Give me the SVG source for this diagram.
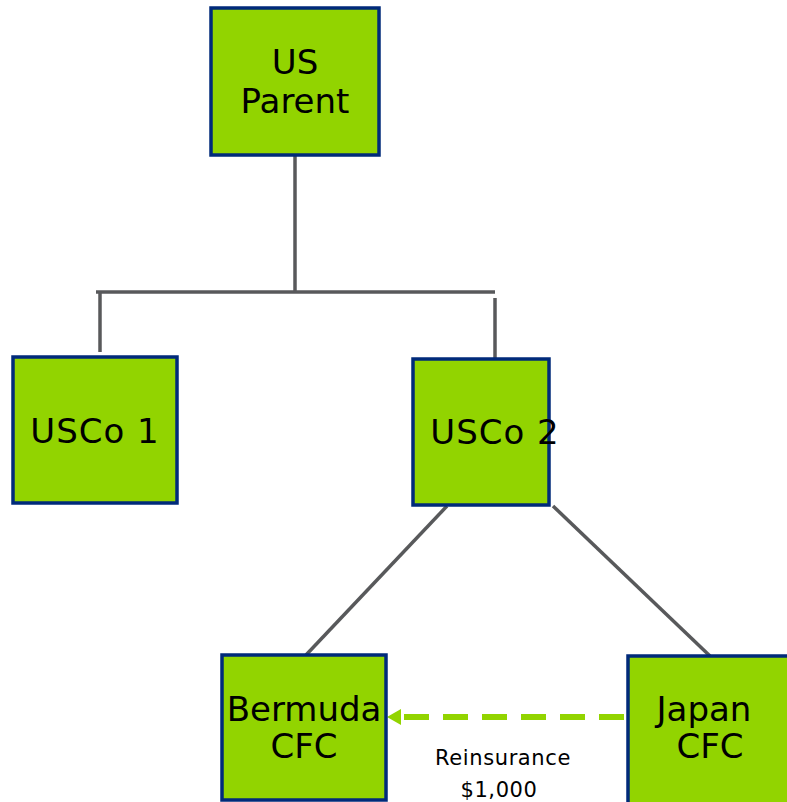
<svg xmlns="http://www.w3.org/2000/svg" width="787" height="802" viewBox="0 0 787 802">
<style>
.box{fill:#92D400;stroke:#002A7A;stroke-width:3.5}
.t{font-family:"DejaVu Sans",Verdana,sans-serif;font-size:34px;fill:#000;text-anchor:middle}
.s{font-family:"DejaVu Sans",Verdana,sans-serif;font-size:21px;letter-spacing:0.6px;fill:#000;text-anchor:middle}
.c{stroke:#58595B;stroke-width:3.5;fill:none}
</style>
<g id="connectors">
<line class="c" x1="295" y1="155" x2="295" y2="292"/>
<line class="c" x1="96" y1="292" x2="495" y2="292"/>
<line class="c" x1="100" y1="292" x2="100" y2="352"/>
<line class="c" x1="495" y1="298" x2="495" y2="358"/>
<line class="c" x1="447" y1="506" x2="306" y2="655"/>
<line class="c" x1="553" y1="506" x2="710" y2="656"/>
<line x1="624" y1="717" x2="402" y2="717" stroke="#92D400" stroke-width="6" stroke-dasharray="25,14"/>
<path d="M387,717 L401,709 L401,725 Z" fill="#92D400"/>
</g>
<g id="us-parent">
<rect class="box" x="211" y="8" width="168" height="147"/>
<text class="t" x="295" y="74">US</text>
<text class="t" x="295" y="113">Parent</text>
</g>
<g id="usco1">
<rect class="box" x="13" y="357" width="164" height="146"/>
<text class="t" x="95" y="443" letter-spacing="1">USCo 1</text>
</g>
<g id="usco2">
<rect class="box" x="413" y="359" width="136" height="146"/>
<text class="t" x="495" y="444" letter-spacing="1">USCo 2</text>
</g>
<g id="bermuda">
<rect class="box" x="222" y="655" width="164" height="145"/>
<text class="t" x="304" y="721">Bermuda</text>
<text class="t" x="304" y="758">CFC</text>
</g>
<g id="japan">
<rect class="box" x="628" y="656" width="164" height="148"/>
<text class="t" x="704" y="721">Japan</text>
<text class="t" x="710" y="758">CFC</text>
</g>
<g id="label">
<text class="s" x="503" y="765">Reinsurance</text>
<text class="s" x="499" y="797">$1,000</text>
</g>
</svg>
